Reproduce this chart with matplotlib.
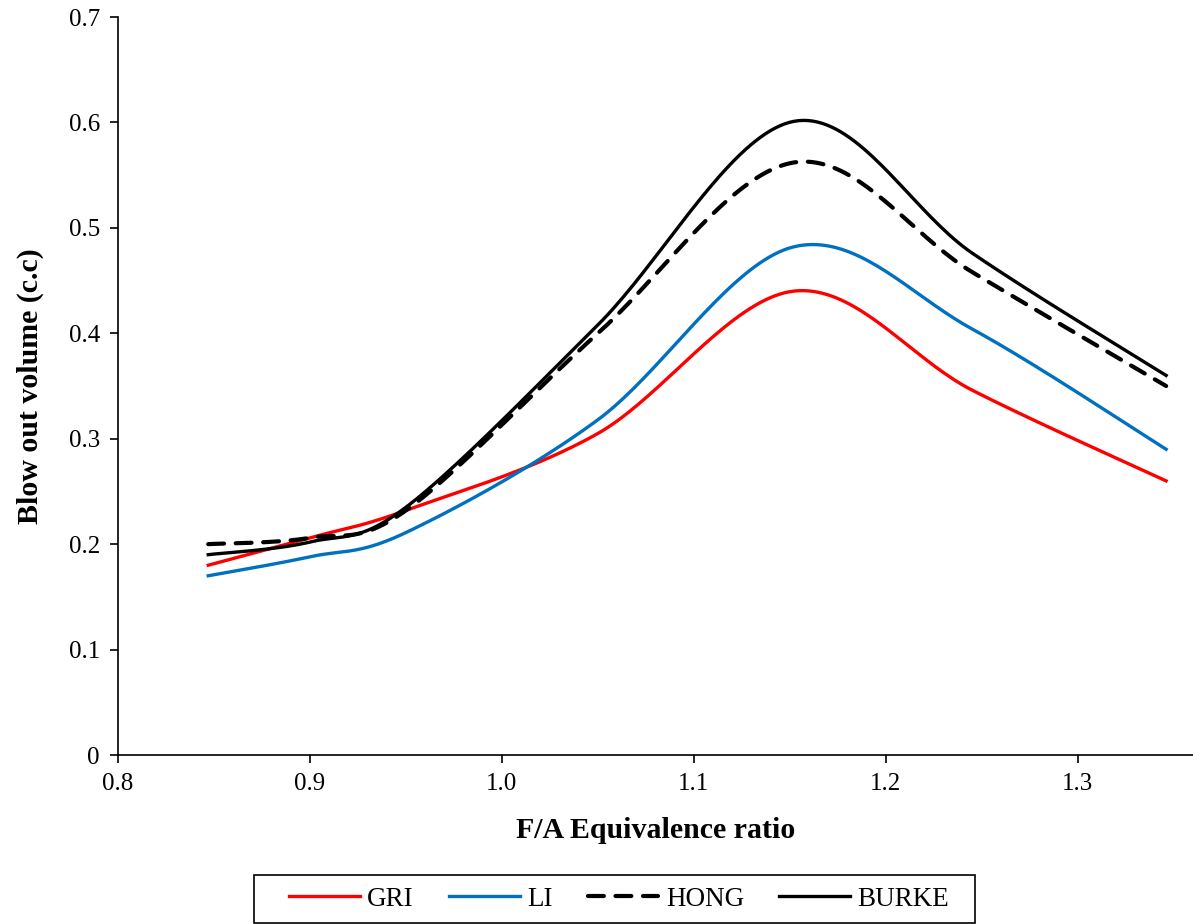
import numpy as np
import matplotlib
matplotlib.use("Agg")
import matplotlib.pyplot as plt
from matplotlib.patches import Rectangle

plt.rcParams["font.family"] = ["Liberation Serif", "DejaVu Serif"]

# F/A equivalence ratio and blow out volume (c.c) per mechanism
phi = [0.847, 0.9, 0.95, 1.05, 1.152, 1.245, 1.346]
gri = [0.18, 0.206, 0.232, 0.305, 0.44, 0.346, 0.26]
li = [0.17, 0.188, 0.211, 0.318, 0.482, 0.404, 0.29]
hong = [0.20, 0.206, 0.232, 0.40, 0.562, 0.458, 0.35]
burke = [0.19, 0.202, 0.235, 0.408, 0.601, 0.476, 0.36]


def smooth(xs, ys, n=40):
    # Excel-like smoothed line: cubic Bezier with Catmull-Rom control points
    x = np.asarray(xs, float)
    y = np.asarray(ys, float)
    px = np.concatenate([[x[0]], x, [x[-1]]])
    py = np.concatenate([[y[0]], y, [y[-1]]])
    t = np.linspace(0, 1, n)
    ox, oy = [], []
    for i in range(1, len(px) - 2):
        x0, x1, x2, x3 = px[i - 1:i + 3]
        y0, y1, y2, y3 = py[i - 1:i + 3]
        c1x, c1y = x1 + (x2 - x0) / 6, y1 + (y2 - y0) / 6
        c2x, c2y = x2 - (x3 - x1) / 6, y2 - (y3 - y1) / 6
        b = [(1 - t) ** 3, 3 * (1 - t) ** 2 * t, 3 * (1 - t) * t ** 2, t ** 3]
        ox.append(b[0] * x1 + b[1] * c1x + b[2] * c2x + b[3] * x2)
        oy.append(b[0] * y1 + b[1] * c1y + b[2] * c2y + b[3] * y2)
    return np.concatenate(ox), np.concatenate(oy)


fig = plt.figure(figsize=(11.93, 9.24), dpi=100)
ax = fig.add_axes([118 / 1193, 1 - 755 / 924, 1075 / 1193, 738 / 924])

lw = 2.4
ax.plot(*smooth(phi, gri), color="#FF0000", lw=lw, label="GRI")
ax.plot(*smooth(phi, li), color="#0070C0", lw=lw, label="LI")
ax.plot(*smooth(phi, hong), color="black", lw=3.0, dashes=(3.8, 2.8),
        dash_capstyle="round", label="HONG")
ax.plot(*smooth(phi, burke), color="black", lw=lw, label="BURKE")

ax.set_xlim(0.8, 1.36)
ax.set_ylim(0, 0.7)
ax.set_xticks([0.8, 0.9, 1.0, 1.1, 1.2, 1.3])
ax.set_xticklabels(["0.8", "0.9", "1.0", "1.1", "1.2", "1.3"])
ax.set_yticks([0, 0.1, 0.2, 0.3, 0.4, 0.5, 0.6, 0.7])
ax.set_yticklabels(["0", "0.1", "0.2", "0.3", "0.4", "0.5", "0.6", "0.7"])
ax.tick_params(direction="out", length=6, width=1.2, labelsize=18, pad=7)
for s in ["top", "right"]:
    ax.spines[s].set_visible(False)
for s in ["left", "bottom"]:
    ax.spines[s].set_linewidth(1.2)

ax.set_xlabel("F/A Equivalence ratio", fontsize=21.5, fontweight="bold", labelpad=16)
ax.set_ylabel("Blow out volume (c.c)", fontsize=21.5, fontweight="bold", labelpad=18)

# legend box below the plot
fig.add_artist(Rectangle((254 / 1193, 1 - 923 / 924), 721 / 1193, 48 / 924,
                         transform=fig.transFigure, fill=False, ec="black", lw=1.2))
fig.legend(loc="center", bbox_to_anchor=(0.519, 0.027), ncol=4, fontsize=19.5,
           frameon=False, handlelength=2.6, columnspacing=1.3, handletextpad=0.28,
           borderpad=0.35, borderaxespad=0)

fig.savefig("out.png", dpi=100)
